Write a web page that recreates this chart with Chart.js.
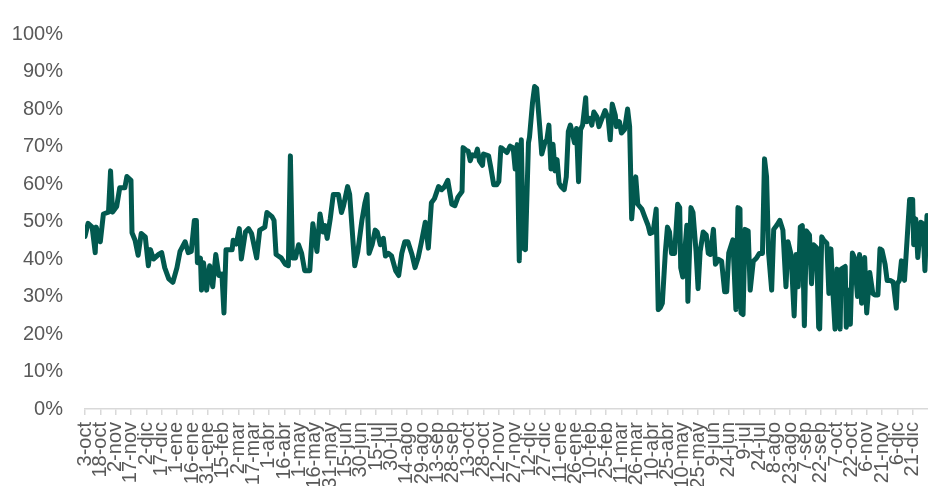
<!DOCTYPE html>
<html><head><meta charset="utf-8">
<script src="https://cdn.jsdelivr.net/npm/chart.js@4.4.1/dist/chart.umd.min.js"></script>
<style>html,body{margin:0;padding:0;background:#fff}#wrap{width:928px;height:486px;position:relative}</style>
</head><body><div id="wrap"><canvas id="c"></canvas></div>
<script>
// Axis tick labels (every 15 days, starting 3-oct)
const tickLabels = ["3-oct","18-oct","2-nov","17-nov","2-dic","17-dic","1-ene","16-ene","31-ene","15-feb","2-mar","17-mar","1-abr","16-abr","1-may","16-may","31-may","15-jun","30-jun","15-jul","30-jul","14-ago","29-ago","13-sep","28-sep","13-oct","28-oct","12-nov","27-nov","12-dic","27-dic","11-ene","26-ene","10-feb","25-feb","11-mar","26-mar","10-abr","25-abr","10-may","25-may","9-jun","24-jun","9-jul","24-jul","8-ago","23-ago","7-sep","22-sep","7-oct","22-oct","6-nov","21-nov","6-dic","21-dic"];
const tickDays = tickLabels.map((_, i) => i * 15);
const lastDay = 825;
const yTicks = [0,10,20,30,40,50,60,70,80,90,100];

// Series: day offset since 3-oct and value (%)
const dayOffsets = [0,3,7,10,11,15,18,23,25,27,31,34,39,41,45,46,49,52,55,59,62,64,67,72,75,78,82,86,90,93,98,101,104,107,109,110,113,114,116,119,122,125,128,131,134,136,138,144,145,148,151,153,157,160,163,168,171,176,178,183,185,187,192,196,199,201,203,206,209,212,215,220,222,223,227,230,233,235,237,240,243,248,251,253,257,259,264,267,271,274,276,278,281,284,286,289,292,294,297,300,304,307,310,313,316,320,323,326,329,333,336,339,342,346,349,352,355,359,362,365,369,370,373,375,377,379,382,384,386,389,390,395,397,400,403,405,407,409,413,416,419,421,423,425,427,429,431,434,435,438,440,442,445,447,450,452,454,456,458,460,462,464,466,469,471,473,475,478,479,481,483,485,487,490,491,494,496,498,501,503,506,509,512,514,516,519,520,523,525,528,531,533,535,537,539,541,545,548,551,553,556,559,561,563,565,568,570,572,574,577,580,582,583,585,589,590,593,595,598,600,602,605,608,610,612,615,617,620,623,626,628,630,634,637,639,641,642,644,646,649,651,654,657,660,663,665,667,669,672,674,677,680,683,686,688,691,694,696,698,700,702,704,706,709,711,713,716,718,719,721,723,726,728,730,732,734,736,739,740,744,745,747,749,751,753,756,758,760,763,765,768,771,773,776,778,780,783,785,788,791,794,795,797,799,802,805,807,810,811,813,815,818,820,822,824,825];
const values = [46,49.5,48.5,41.7,48.5,44.6,52,52.5,63.5,52.5,54,59,59,62,61,47,45,41,46.8,45.9,38.2,42.5,40,41.2,41.7,37.7,34.7,33.8,37.7,42,44.6,41.7,42,50.3,50.3,39,40.2,31.7,39,31.7,38.2,32.6,41.2,35.6,36,25.6,42.5,42.5,45,44,48.1,40,47.2,48.1,46.8,40.3,47.7,48.5,52.4,51.3,50.3,41.2,40.3,38.6,38.2,67.5,40.3,40.3,43.8,41.5,36.9,36.9,45.5,49.4,42,52,47.2,48.9,45.5,50.7,57.2,57.2,52.4,54.2,59.3,57.2,38.2,42,50.3,55,57.2,41.5,43.8,47.7,47.2,43.8,45.5,40.8,41.5,40.8,36.9,35.6,41.5,44.6,44.6,41.2,37.7,40.3,44.2,49.8,42.9,55,56.1,59.3,58.5,59.3,61,54.6,54.2,56.5,58,69.7,69,68.8,66.2,67.8,67.5,69.3,66.2,65,68,67.5,64.6,59.8,59.8,60.7,69.7,69.3,68.4,70.1,69.7,64,70.5,39.5,71.8,42.9,42.5,71,72.5,81.8,86,85.5,75.3,68,71,71.8,75.7,64,70.6,63.5,66.5,60.2,59.3,58.5,61.9,74,75.7,72.3,71,74.8,60.6,74.5,75.7,83,76.6,77.5,75.7,79.2,77.9,75.3,77.5,79.6,77.5,71.8,81.3,78.3,75.3,76.6,73.6,74.5,80,75.3,50.7,57.6,61.9,54.6,53.3,51.1,49,46.8,47.2,53.3,26.5,27,28.2,42,48.5,47.2,41.5,41.5,54.6,53.7,37.7,35.2,49,28.7,53.7,52.4,42,32.1,42,47.2,46.4,41.5,41.2,47.9,38.6,39.9,39.4,31.3,31.3,41.6,45.1,26.5,53.7,53.3,25.6,25.2,47.9,47.5,31.7,39.4,40.2,41.5,41.5,66.7,62,41.5,31.7,47.9,49,50.3,47.7,32.6,44.6,41.2,24.8,41.2,32.6,48.5,48.9,22.2,47.5,46.4,33.4,43.8,43,21.8,21.4,45.9,45,44.2,30.8,42.7,30.8,21.3,37.3,21.3,37.3,38,21.8,31.7,22.6,41.6,40.4,30,41.2,28.2,40.4,25.6,36.4,30.8,30.4,30.4,42.7,42.3,38.6,34.3,34.3,33.8,26.9,33.4,34.3,39.5,34.3,47.2,55.9,55.9,43.8,50.7,40.4,49.8,49.4,36.9,51.6,44];

const points = dayOffsets.map((d, i) => ({x: d, y: values[i]}));
const labelByDay = {};
tickDays.forEach((d, i) => labelByDay[d] = tickLabels[i]);

new Chart(document.getElementById('c'), {
  type: 'line',
  data: {
    datasets: [{
      data: points,
      borderColor: '#02594f',
      borderWidth: 5,
      pointRadius: 0,
      tension: 0,
      borderJoinStyle: 'round',
      borderCapStyle: 'round',
      fill: false
    }]
  },
  options: {
    responsive: true,
    maintainAspectRatio: false,
    animation: false,
    layout: {padding: {top: 22, right: 0, left: 0, bottom: 0}},
    plugins: {legend: {display: false}, tooltip: {enabled: false}},
    scales: {
      x: {
        type: 'linear',
        min: 0,
        max: lastDay,
        afterBuildTicks: s => { s.ticks = tickDays.map(v => ({value: v})); },
        afterFit: s => { s.height = 77; s.paddingLeft = 0; s.paddingRight = 0; },
        border: {display: true, color: '#d9d9d9', width: 1.5},
        grid: {display: true, drawOnChartArea: false, drawTicks: true, tickLength: 6, color: '#d9d9d9', lineWidth: 1.5},
        ticks: {
          autoSkip: false,
          maxRotation: 90,
          minRotation: 90,
          padding: 7,
          color: '#595959',
          font: {family: '"Liberation Sans", Arial, sans-serif', size: 20, lineHeight: 1},
          callback: v => labelByDay[v] !== undefined ? labelByDay[v] : ''
        }
      },
      y: {
        min: 0,
        max: 100,
        afterBuildTicks: s => { s.ticks = yTicks.map(v => ({value: v})); },
        afterFit: s => { s.width = 85; },
        border: {display: false},
        grid: {display: false, drawTicks: false},
        ticks: {
          padding: 22,
          color: '#595959',
          font: {family: '"Liberation Sans", Arial, sans-serif', size: 20},
          callback: v => v + '%'
        }
      }
    }
  }
});
</script>
</body></html>
